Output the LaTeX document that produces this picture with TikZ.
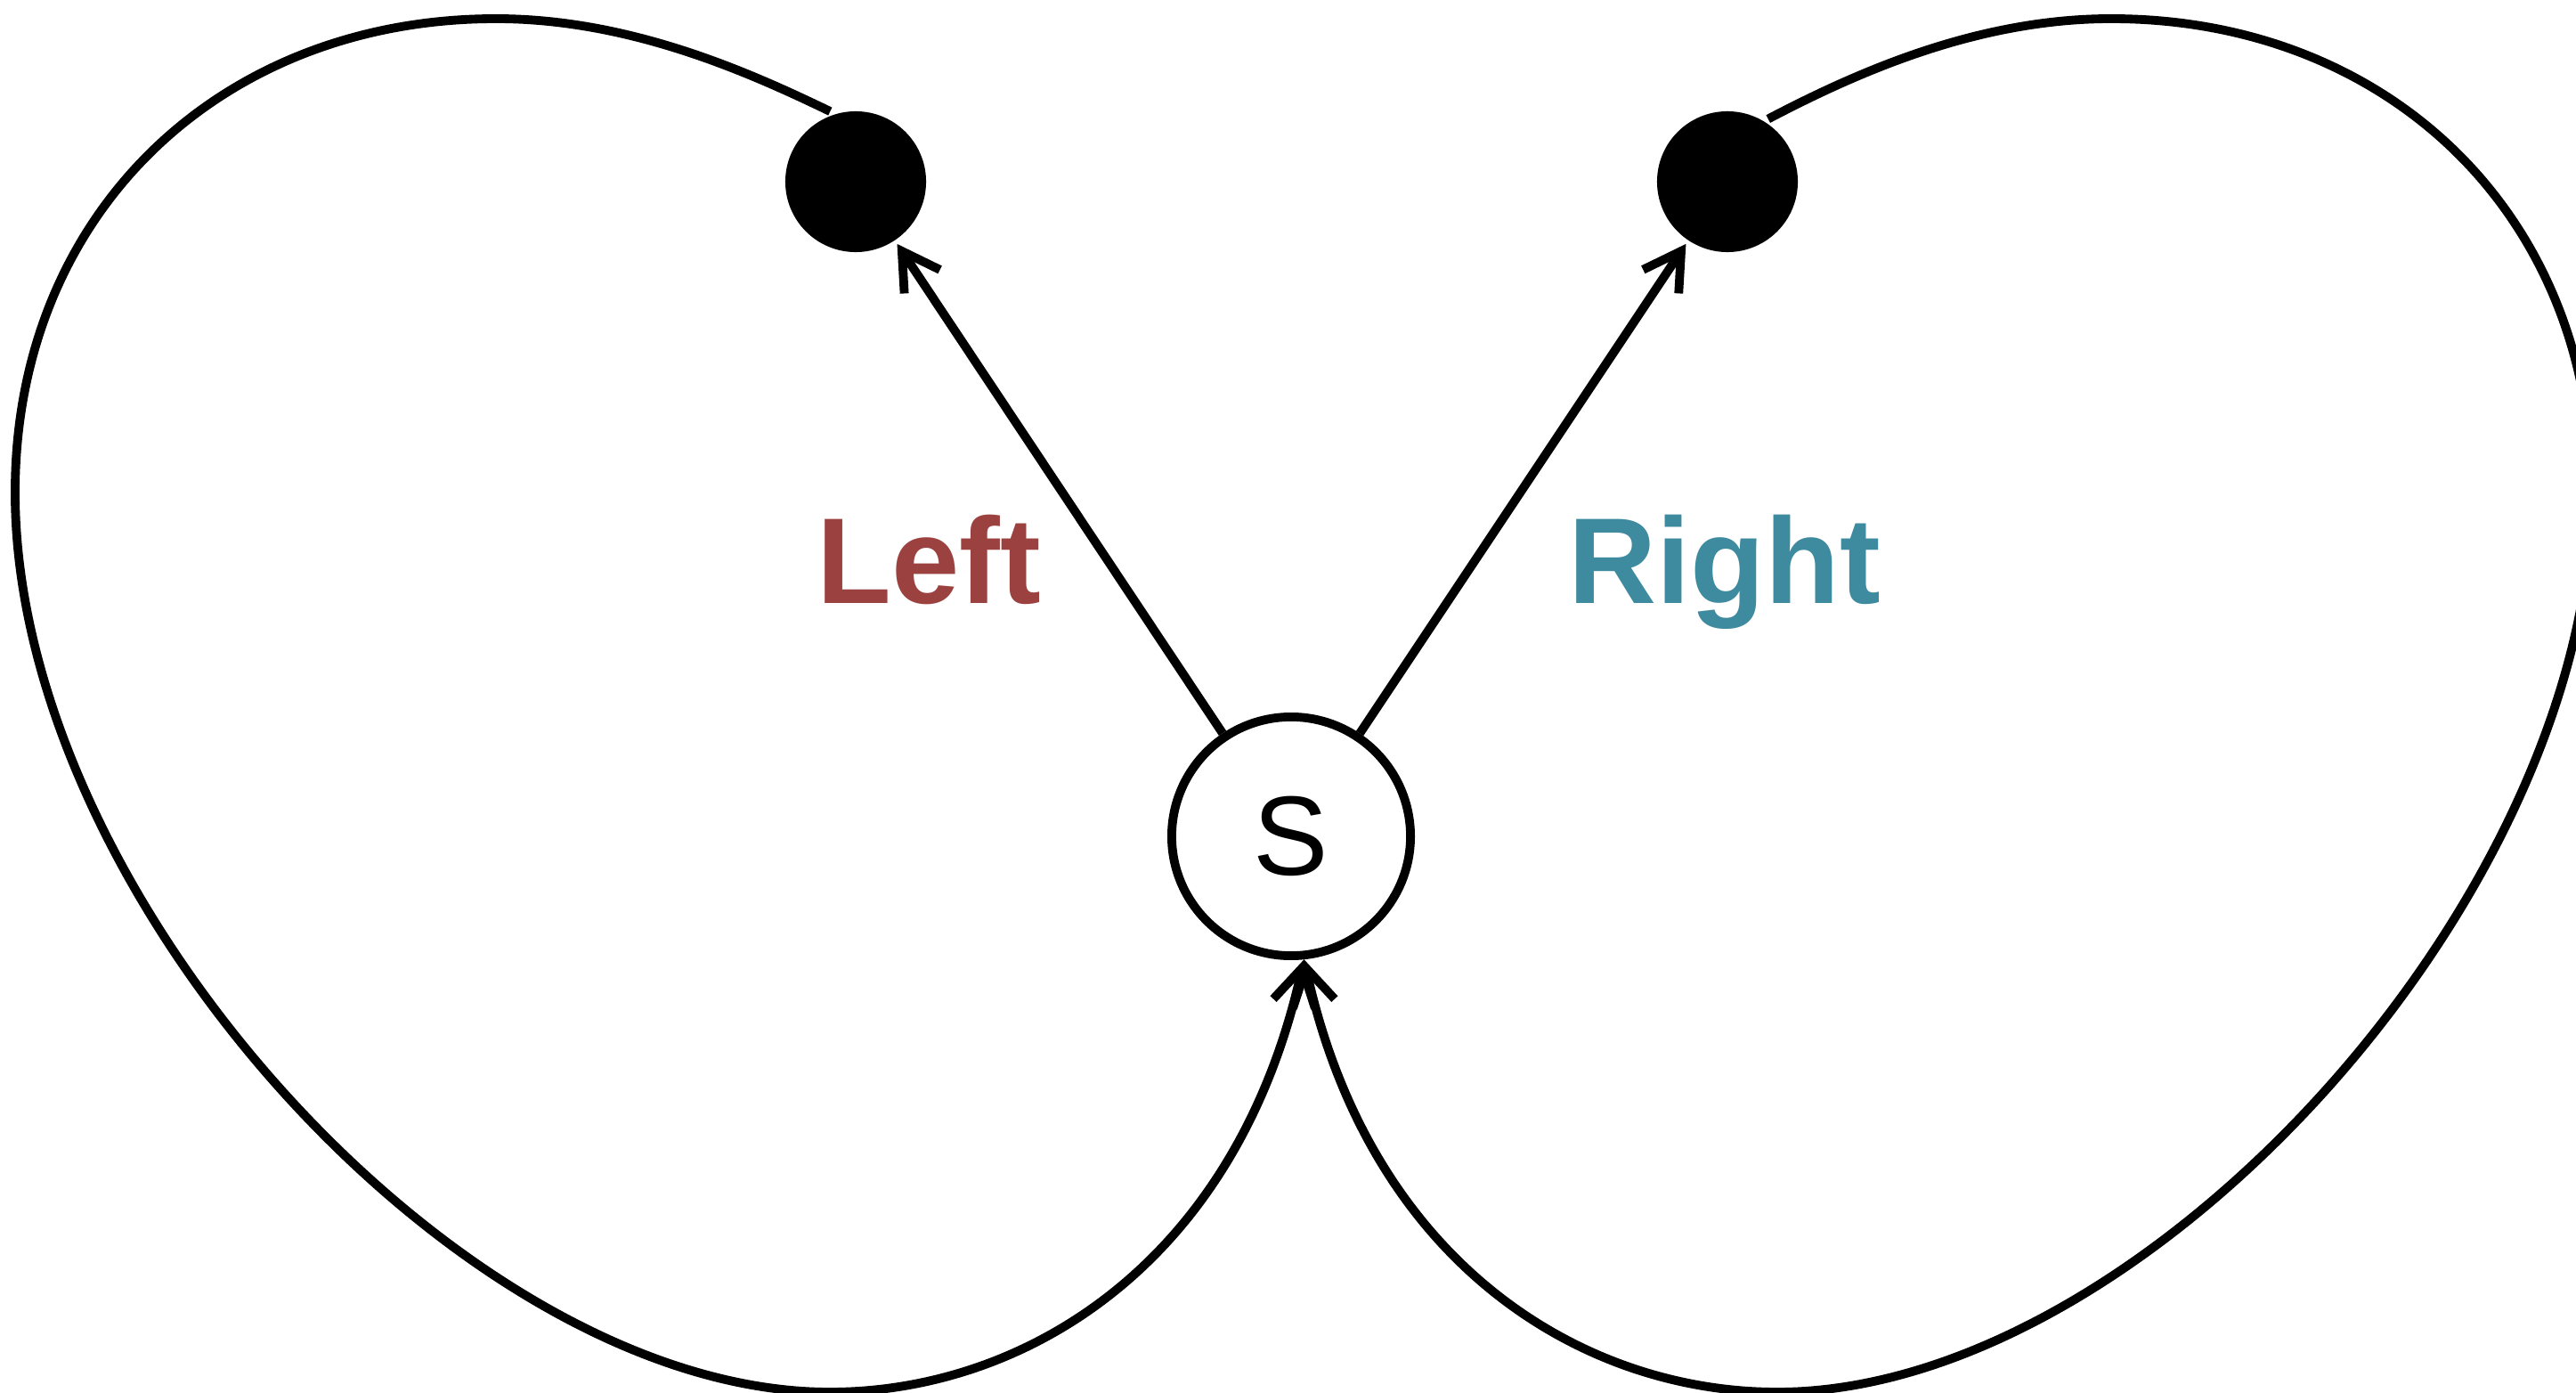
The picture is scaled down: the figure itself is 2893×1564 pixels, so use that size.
\documentclass[tikz,border=0pt]{standalone}
\usepackage{fontspec}
\setmainfont{Liberation Sans}
\usetikzlibrary{arrows.meta}
\definecolor{leftred}{HTML}{9B4240}
\definecolor{rightteal}{HTML}{3E8A9E}

\begin{document}
\begin{tikzpicture}[x=0.01cm,y=-0.01cm,line width=2.8pt,
  barb/.style={-{Straight Barb[length=0.41cm,width=0.48cm]}},
  state/.style={circle,draw,fill=white,minimum size=2.68cm,inner sep=0pt,font=\fontsize{36}{40}\selectfont},
  goal/.style={circle,fill=black,minimum size=1.58cm,inner sep=0pt},
  lbl/.style={anchor=base,font=\fontsize{39}{44}\selectfont\bfseries}]
  \useasboundingbox (0,0) rectangle (2893,1564);

  % start state and the two goal states
  \node[state] (s) at (1450,939) {S};
  \node[goal] (lgoal) at (961,204) {};
  \node[goal] (rgoal) at (1940,204) {};

  % labels
  \node[lbl,text=leftred] (lleft) at (1043,677) {Left};
  \node[lbl,text=rightteal] (lright) at (1937,677) {Right};

  % moves
  \draw[barb] (s) -- (lgoal);
  \draw[barb] (s) -- (rgoal);

  % left loop back to S
  \draw[barb] (lgoal.110) .. controls (841,81) and (707,21) .. (557,21)
    .. controls (247,21) and (17,240) .. (17,553)
    .. controls (17,1008) and (521,1563) .. (932,1563)
    .. controls (1150,1563) and (1388,1420) .. (s.-84);

  % right loop back to S
  \draw[barb] (rgoal.57) .. controls (2086,81) and (2221,21) .. (2371,21)
    .. controls (2681,21) and (2911,240) .. (2911,553)
    .. controls (2911,1008) and (2407,1563) .. (1996,1563)
    .. controls (1778,1563) and (1540,1420) .. (s.-84);
\end{tikzpicture}
\end{document}
